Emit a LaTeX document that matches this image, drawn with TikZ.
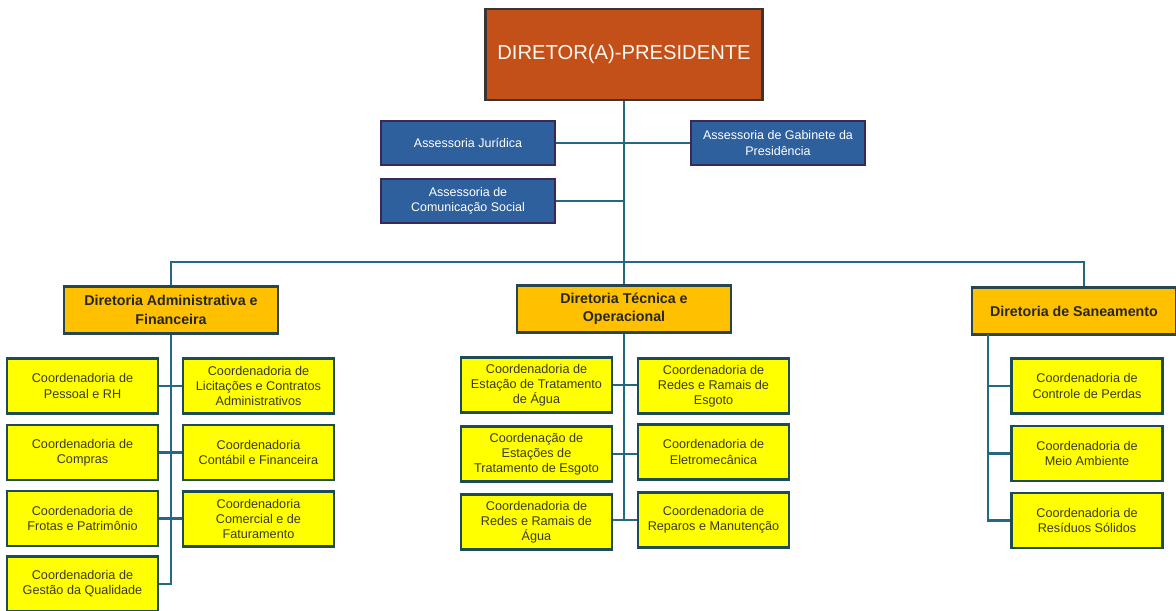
\documentclass[tikz,border=0pt]{standalone}
\usepackage{fontspec}
\setmainfont{Liberation Sans}

\definecolor{linkline}{RGB}{36,104,130}
\definecolor{presfill}{RGB}{194,80,24}
\definecolor{presborder}{RGB}{58,52,50}
\definecolor{assfill}{RGB}{46,96,158}
\definecolor{assborder}{RGB}{58,40,90}
\definecolor{dirfill}{RGB}{255,192,0}
\definecolor{dirborder}{RGB}{40,70,78}
\definecolor{coordfill}{RGB}{255,255,0}
\definecolor{coordborder}{RGB}{30,76,86}
\definecolor{coordtext}{RGB}{58,58,40}

\begin{document}
\begin{tikzpicture}[x=0.02cm,y=-0.02cm,
    presbox/.style={draw=presborder,fill=presfill,line width=1.4pt,text=white!94!orange,
        minimum width=5.54cm,minimum height=1.82cm,font=\fontsize{11.5}{13}\selectfont},
    assbox/.style={draw=assborder,fill=assfill,line width=1.4pt,text=white,align=center,
        minimum width=3.48cm,minimum height=0.88cm,font=\fontsize{7.1}{8.6}\selectfont},
    dirbox/.style={draw=dirborder,fill=dirfill,line width=1.4pt,text=black!85,align=center,
        minimum width=4.28cm,minimum height=0.94cm,font=\bfseries\fontsize{8.1}{10.4}\selectfont},
    coordbox/.style={draw=coordborder,fill=coordfill,line width=1.4pt,text=coordtext,align=center,
        minimum width=3.02cm,minimum height=1.1cm,font=\fontsize{7.2}{8.6}\selectfont},
    link/.style={draw=linkline,line width=1.4pt}]

\path[use as bounding box,fill=white] (0,0) rectangle (1176,610);

% Presidencia
\node[presbox] (pres) at (624,54.5) {DIRETOR(A)-PRESIDENTE};

\node[assbox] (jur) at (468,143) {Assessoria Jurídica};
\node[assbox] (gab) at (778,143) {Assessoria de Gabinete da\\Presidência};
\node[assbox] (com) at (468,201) {Assessoria de\\Comunicação Social};

% Diretorias
\node[dirbox] (adm) at (171,310) {Diretoria Administrativa e\\Financeira};
\node[dirbox] (tec) at (624,309) {Diretoria Técnica e\\Operacional};
\node[dirbox,minimum width=4.08cm] (san) at (1074,311) {Diretoria de Saneamento};

\coordinate (busL) at (171,262);
\coordinate (busR) at (1084,262);
\coordinate (sanbus) at (988,334);

% Coordenadorias - administrativa
\node[coordbox] (pessoal) at (82.5,386) {Coordenadoria de\\Pessoal e RH};
\node[coordbox] (compras) at (82.5,452.5) {Coordenadoria de\\Compras};
\node[coordbox] (frotas) at (82.5,518.5) {Coordenadoria de\\Frotas e Patrimônio};
\node[coordbox] (gestao) at (82.5,584) {Coordenadoria de\\Gestão da Qualidade};
\node[coordbox] (licit) at (258.5,386) {Coordenadoria de\\Licitações e Contratos\\Administrativos};
\node[coordbox] (contabil) at (258.5,452.5) {Coordenadoria\\Contábil e Financeira};
\node[coordbox] (comercial) at (258.5,519) {Coordenadoria\\Comercial e de\\Faturamento};

% Coordenadorias - tecnica
\node[coordbox] (eta) at (536.5,385) {Coordenadoria de\\Estação de Tratamento\\de Água};
\node[coordbox] (ete) at (536.5,454) {Coordenação de\\Estações de\\Tratamento de Esgoto};
\node[coordbox] (agua) at (536.5,522) {Coordenadoria de\\Redes e Ramais de\\Água};
\node[coordbox] (esgoto) at (713.5,386) {Coordenadoria de\\Redes e Ramais de\\Esgoto};
\node[coordbox] (eletro) at (713.5,452) {Coordenadoria de\\Eletromecânica};
\node[coordbox] (reparos) at (713.5,520) {Coordenadoria de\\Reparos e Manutenção};

% Coordenadorias - saneamento
\node[coordbox] (perdas) at (1087,386) {Coordenadoria de\\Controle de Perdas};
\node[coordbox] (meio) at (1087,453.5) {Coordenadoria de\\Meio Ambiente};
\node[coordbox] (residuos) at (1087,520.5) {Coordenadoria de\\Resíduos Sólidos};

% Ligacoes do topo
\draw[link] (pres.south) -- (tec.north);
\draw[link] (jur.east) -- (gab.west);
\draw[link] (com.east) -- (com.east -| pres.south);
\draw[link] (adm.north) -- (busL) -- (busR) -- (busR |- san.north);

% Ligacoes administrativa
\draw[link] (adm.south) |- (gestao.east);
\draw[link] (pessoal.east) -- (pessoal.east -| licit.west);
\draw[link] (compras.east) -- (compras.east -| contabil.west);
\draw[link] (frotas.east) -- (frotas.east -| comercial.west);

% Ligacoes tecnica
\draw[link] (tec.south) -- (tec.south |- reparos.west);
\draw[link] (eta.east) -- (eta.east -| esgoto.west);
\draw[link] (ete.east) -- (ete.east -| eletro.west);
\draw[link] (agua.east |- reparos.west) -- (reparos.west);

% Ligacoes saneamento
\draw[link] (sanbus) |- (residuos.west);
\draw[link] (sanbus |- perdas.west) -- (perdas.west);
\draw[link] (sanbus |- meio.west) -- (meio.west);

\end{tikzpicture}
\end{document}
